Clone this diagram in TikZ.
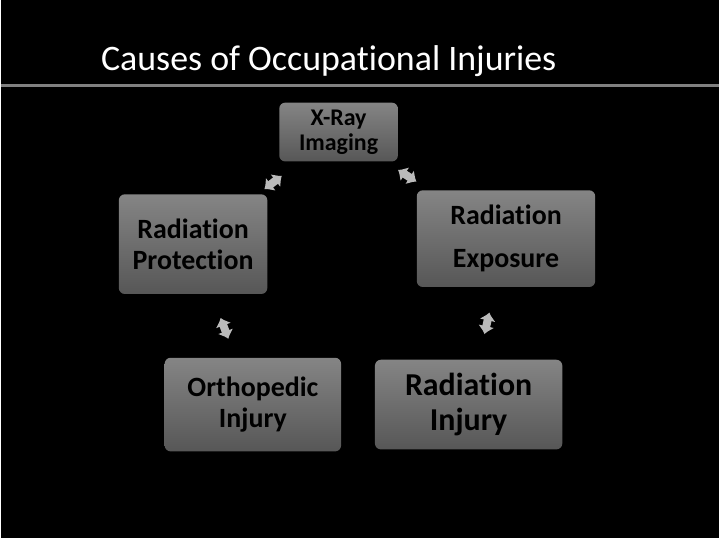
\documentclass[tikz,border=0pt]{standalone}
\usepackage{fontspec}
\setmainfont[Ligatures=NoCommon]{Carlito}
\usetikzlibrary{positioning,calc,arrows.meta}

\begin{document}
\begin{tikzpicture}[x=1pt,y=1pt]
\tikzstyle{cause}=[rectangle, rounded corners=6pt, top color=black!48, bottom color=black!66, text=black, align=center, inner sep=0pt, outer sep=0pt]
\tikzstyle{link}=[{Latex[length=8pt,width=17pt]}-{Latex[length=8pt,width=17pt]}, line width=8pt, draw=black!27]

  % slide background and heading
  \fill[black] (0,0) rectangle (720,540);
  \node[anchor=base west, inner sep=0pt, text=white, font=\fontsize{36}{40}\selectfont] (title) at (100,469) {Causes of Occupational Injuries};
  \draw[black!50, line width=2.5pt] (0,454) -- (720,454);

  \node[cause, minimum width=119pt, minimum height=59pt, font=\fontsize{24}{25}\selectfont\bfseries] (xray) at (338.5,407.5) {X-Ray\\Imaging};
  \node[cause, minimum width=149pt, minimum height=100pt, font=\fontsize{28}{31}\selectfont\bfseries] (prot) [below left=33pt and 12pt of xray] {Radiation\\Protection};
  \node[cause, minimum width=179pt, minimum height=97pt, font=\fontsize{28}{43}\selectfont\bfseries] (expo) [below right=29pt and 19pt of xray] {Radiation\\Exposure};
  \node[cause, minimum width=177pt, minimum height=94pt, font=\fontsize{28}{31}\selectfont\bfseries] (ortho) [below=64pt of prot, xshift=60pt] {Orthopedic\\Injury};
  \node[cause, minimum width=188pt, minimum height=90pt, font=\fontsize{32}{35}\selectfont\bfseries] (radinj) [right=34pt of ortho] {Radiation\\Injury};

  % small double arrows of the cycle
  \draw[link] ($(xray)!0.39!(prot)$) -- ($(xray)!0.51!(prot)$);
  \draw[link] ($(xray)!0.355!(expo)$) -- ($(xray)!0.465!(expo)$);
  \draw[link] ($(prot)!0.46!(ortho)$) -- ($(prot)!0.59!(ortho)$);
  \draw[link] ($(expo)!0.445!(radinj)$) -- ($(expo)!0.575!(radinj)$);
\end{tikzpicture}
\end{document}
